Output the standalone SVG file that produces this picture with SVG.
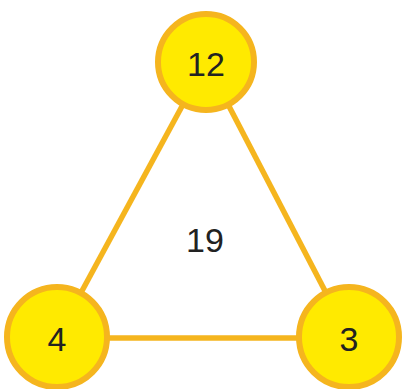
<svg xmlns="http://www.w3.org/2000/svg" width="402" height="389" viewBox="0 0 402 389">
<style>
.edge{stroke:#F5B51E;stroke-width:5.5;fill:none}
.node{fill:#FFEA00;stroke:#F5B51E;stroke-width:6}
.lbl{font-family:"Liberation Sans",Arial,sans-serif;font-size:34px;fill:#222;text-anchor:middle;dominant-baseline:central}
</style>
<rect width="402" height="389" fill="#fff"/>
<g id="connectors">
<line class="edge" x1="206" y1="62" x2="57" y2="337"/>
<line class="edge" x1="206" y1="62" x2="349" y2="337"/>
<line class="edge" x1="57" y1="338" x2="349" y2="338"/>
</g>
<text class="lbl" x="205" y="240">19</text>
<g id="n12"><circle class="node" cx="206" cy="62" r="48"/><text class="lbl" x="206" y="64">12</text></g>
<g id="n4"><circle class="node" cx="57" cy="337" r="50"/><text class="lbl" x="57" y="339">4</text></g>
<g id="n3"><circle class="node" cx="349" cy="337" r="50"/><text class="lbl" x="349" y="339">3</text></g>
</svg>
